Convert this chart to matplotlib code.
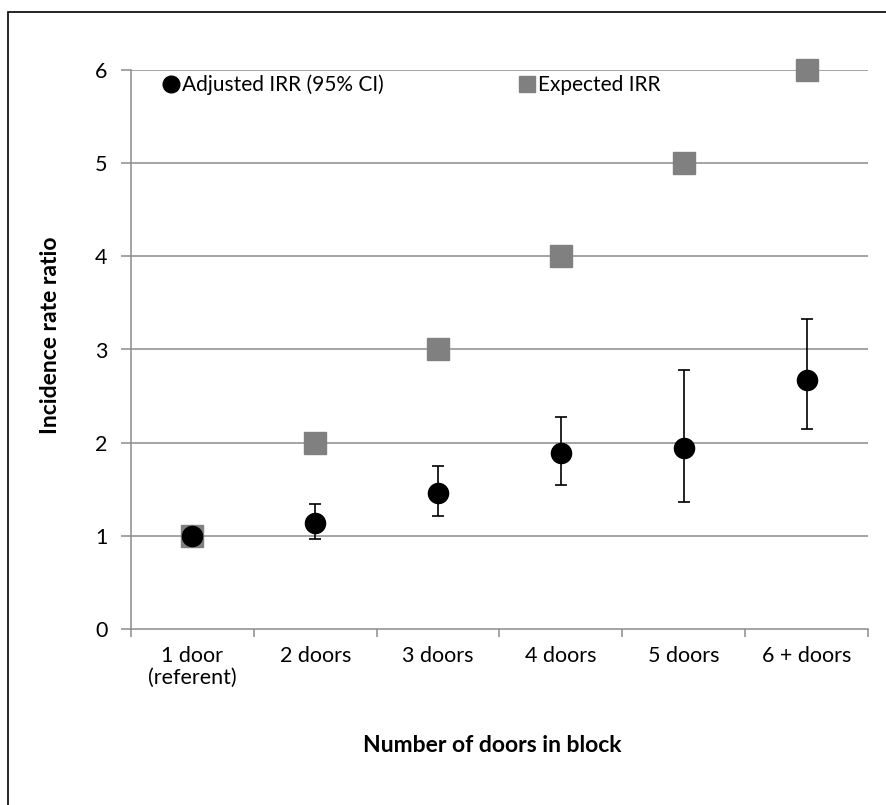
import numpy as np
import matplotlib.pyplot as plt
from matplotlib.patches import Rectangle

# Data
categories = ["1 door\n(referent)", "2 doors", "3 doors", "4 doors", "5 doors", "6 + doors"]
adjusted_irr = [1.00, 1.14, 1.46, 1.89, 1.94, 2.67]
ci_lower = [1.00, 0.97, 1.21, 1.55, 1.36, 2.15]
ci_upper = [1.00, 1.34, 1.75, 2.28, 2.78, 3.33]
expected_irr = [1, 2, 3, 4, 5, 6]
y_ticks = [0, 1, 2, 3, 4, 5, 6]

plt.rcParams['font.family'] = ['Lato', 'DejaVu Sans']

W, H = 887, 805
fig = plt.figure(figsize=(W / 100, H / 100), dpi=100)

# outer chart frame (only top/left edges are visible in the reference)
fig.patches.append(Rectangle((8 / W, -0.5), 1.5, 1.5 - 12 / H, transform=fig.transFigure,
                             fill=False, edgecolor='black', linewidth=1.2))

ax = fig.add_axes([131 / W, (H - 629) / H, (868 - 131) / W, (629 - 70) / H])
x = np.arange(len(categories))

grid_col = '#8c8c8c'
for yv in y_ticks[1:]:
    ax.axhline(yv, color=grid_col, linewidth=1.1, zorder=1)

ax.plot(x, expected_irr, linestyle='none', marker='s', markersize=15.5,
        color='#808080', zorder=2, clip_on=False, label='Expected IRR')

yerr = [np.array(adjusted_irr) - np.array(ci_lower), np.array(ci_upper) - np.array(adjusted_irr)]
ax.errorbar(x, adjusted_irr, yerr=yerr, fmt='none', ecolor='black', elinewidth=1.2,
            capsize=4.3, capthick=1.2, zorder=3)
ax.plot(x, adjusted_irr, linestyle='none', marker='o', markersize=14.5,
        color='black', zorder=4, clip_on=False, label='Adjusted IRR (95% CI)')

ax.set_xlim(-0.5, len(categories) - 0.5)
ax.set_ylim(0, 6)
ax.set_yticks(y_ticks)
ax.set_xticks(x)
ax.set_xticklabels(categories, linespacing=1.15)
ax.set_xticks(np.arange(-0.5, len(categories)), minor=True)
ax.tick_params(axis='x', which='major', length=0, pad=12, labelsize=15.5)
ax.tick_params(axis='x', which='minor', length=6, width=1.1, color=grid_col, direction='out')
ax.tick_params(axis='y', length=7, width=1.1, color=grid_col, pad=10, labelsize=15.5)

for s in ['top', 'right']:
    ax.spines[s].set_visible(False)
for s in ['left', 'bottom']:
    ax.spines[s].set_color(grid_col)
    ax.spines[s].set_linewidth(1.1)
ax.spines['bottom'].set_zorder(1)

# axis titles
fig.text(51 / W, 1 - 335 / H, 'Incidence rate ratio', rotation=90, ha='center', va='center',
         fontsize=16.5, fontweight='bold')
fig.text(492 / W, 1 - 745 / H, 'Number of doors in block', ha='center', va='center',
         fontsize=16.5, fontweight='bold')

handles, labels = ax.get_legend_handles_labels()
leg = ax.legend(handles[::-1], labels[::-1], ncol=2, frameon=False, loc='center left',
                bbox_to_anchor=(165 / W, 1 - 85 / H), bbox_transform=fig.transFigure,
                fontsize=15, handlelength=0.6, handletextpad=0.2, columnspacing=6.6,
                borderaxespad=0, borderpad=0)
for h in leg.legend_handles:
    h.set_markersize(12)

fig.savefig('out.png', dpi=100)
